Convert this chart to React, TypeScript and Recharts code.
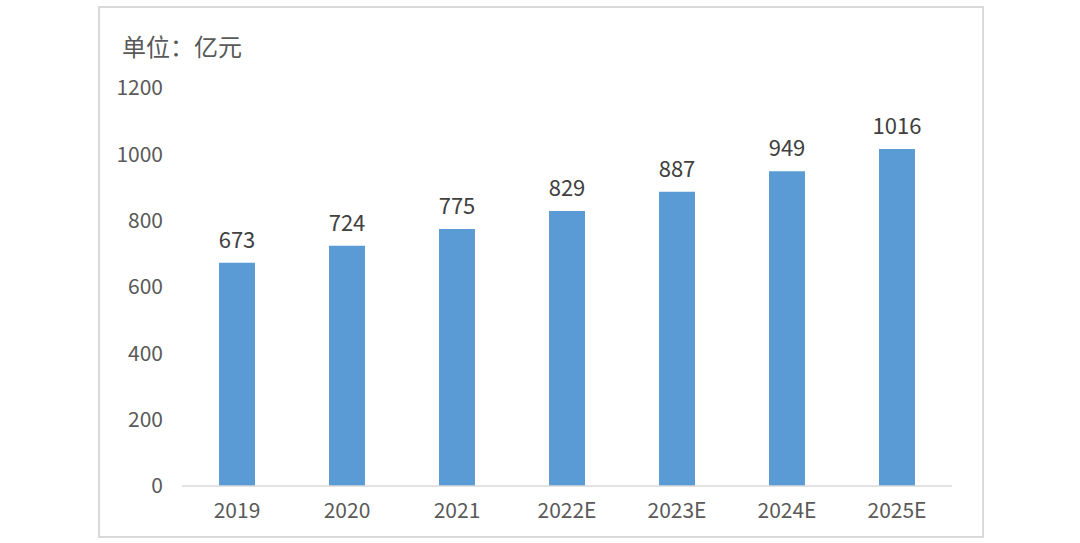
import React from 'react'
import { BarChart, Bar, XAxis, YAxis, LabelList } from 'recharts'

const years = ['2019', '2020', '2021', '2022E', '2023E', '2024E', '2025E']
const values = [673, 724, 775, 829, 887, 949, 1016]
const yTicks = [0, 200, 400, 600, 800, 1000, 1200]

const data = years.map((year, i) => ({ year, value: values[i] }))

const FONT = '"Noto Sans CJK SC", "Noto Sans", sans-serif'

export default function App() {
  return (
    <div style={PageStyle}>
      <BarChart
        width={1080}
        height={543}
        data={data}
        margin={{ top: 88, right: 128, left: 100, bottom: 0 }}
      >
        <XAxis
          dataKey="year"
          axisLine={{ stroke: '#D9D9D9', strokeWidth: 1.5 }}
          tickLine={false}
          tickSize={0}
          tickMargin={17}
          tick={{ fill: '#595959', fontSize: 21, fontFamily: FONT }}
          height={57}
        />
        <YAxis
          width={82}
          domain={[0, 1200]}
          ticks={yTicks}
          axisLine={false}
          tickLine={false}
          tickSize={0}
          tickMargin={19}
          tick={{ fill: '#595959', fontSize: 21, fontFamily: FONT }}
        />
        <Bar dataKey="value" fill="#5B9BD5" barSize={36} isAnimationActive={false}>
          <LabelList
            dataKey="value"
            position="top"
            offset={15}
            fill="#404040"
            fontSize={22}
            fontFamily={FONT}
          />
        </Bar>
      </BarChart>
      <div style={FrameStyle} />
      <div style={UnitStyle}>单位：亿元</div>
    </div>
  )
}

const PageStyle: React.CSSProperties = {
  position: 'absolute',
  left: 0,
  top: 0,
  width: 1080,
  height: 543,
  background: '#fff',
}

const FrameStyle: React.CSSProperties = {
  position: 'absolute',
  left: 98,
  top: 6,
  width: 882,
  height: 528,
  border: '2px solid #D9D9D9',
  pointerEvents: 'none',
}

const UnitStyle: React.CSSProperties = {
  position: 'absolute',
  left: 122,
  top: 30,
  fontSize: 24,
  lineHeight: '32px',
  color: '#595959',
  fontFamily: FONT,
}
